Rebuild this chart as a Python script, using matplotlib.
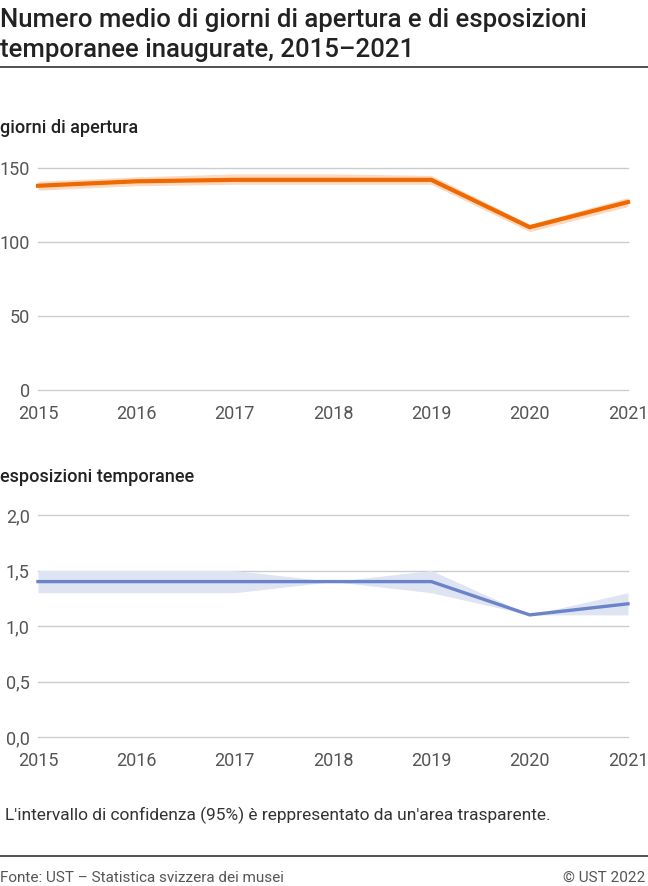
import matplotlib
matplotlib.use("Agg")
import matplotlib.pyplot as plt
from matplotlib.lines import Line2D

plt.rcParams['font.family'] = ['Roboto', 'DejaVu Sans']

# dati
anni = [2015, 2016, 2017, 2018, 2019, 2020, 2021]

giorni = [138, 141, 142, 142, 142, 110, 127]
giorni_low = [135, 138, 139, 139, 139, 107, 124]
giorni_high = [141, 144, 146, 146, 145, 112, 130]

esposizioni = [1.4, 1.4, 1.4, 1.4, 1.4, 1.1, 1.2]
esposizioni_low = [1.3, 1.3, 1.3, 1.4, 1.3, 1.1, 1.1]
esposizioni_high = [1.5, 1.5, 1.5, 1.4, 1.5, 1.1, 1.3]

ticks_giorni = [0, 50, 100, 150]
ticks_espo = [0.0, 0.5, 1.0, 1.5, 2.0]

W, H = 648, 886
fig = plt.figure(figsize=(W / 100, H / 100), dpi=100)


def px_axes(left, top, right, bottom):
    return fig.add_axes([left / W, 1 - bottom / H, (right - left) / W, (bottom - top) / H])


def style(ax, ticks, fmt):
    ax.set_xlim(anni[0], anni[-1])
    ax.set_ylim(ticks[0], ticks[-1])
    ax.set_yticks(ticks)
    ax.set_yticklabels([fmt(t) for t in ticks])
    ax.set_xticks(anni)
    ax.set_xticklabels([str(a) for a in anni])
    for s in ax.spines.values():
        s.set_visible(False)
    for t in ticks:
        ax.axhline(t, color='#cccccc', lw=1, clip_on=False, zorder=0)
    ax.tick_params(length=0, labelsize=13, labelcolor='#555555')
    ax.tick_params(axis='x', pad=11)
    ax.tick_params(axis='y', pad=6)


# grafico superiore
ax1 = px_axes(38, 168, 628, 390)
ax1.fill_between(anni, giorni_low, giorni_high, color='#fcd9c0', lw=0, clip_on=False, zorder=1)
ax1.plot(anni, giorni, color='#f06800', lw=3, clip_on=False, solid_joinstyle='miter', zorder=2)
style(ax1, ticks_giorni, lambda t: f"{t}")

# grafico inferiore
ax2 = px_axes(38, 515, 628, 737)
ax2.fill_between(anni, esposizioni_low, esposizioni_high, color='#dfe4f3', lw=0, clip_on=False, zorder=1)
ax2.plot(anni, esposizioni, color='#6b84c9', lw=2.4, clip_on=False, solid_joinstyle='miter', zorder=2)
style(ax2, ticks_espo, lambda t: f"{t:.1f}".replace('.', ','))

# testi
fig.text(0, 1 - 27 / H, "Numero medio di giorni di apertura e di esposizioni", fontsize=18.5,
         fontweight='medium', color='#222222', va='baseline')
fig.text(0, 1 - 57 / H, "temporanee inaugurate, 2015\u20132021", fontsize=18.5,
         fontweight='medium', color='#222222', va='baseline')
fig.add_artist(Line2D([0, 1], [1 - 67 / H] * 2, color='#333333', lw=1.2))

fig.text(0, 1 - 133 / H, "giorni di apertura", fontsize=13, fontweight='medium',
         color='#222222', va='baseline')
fig.text(0, 1 - 482 / H, "esposizioni temporanee", fontsize=13, fontweight='medium',
         color='#222222', va='baseline')

fig.text(5 / W, 1 - 820 / H, "L'intervallo di confidenza (95%) è reppresentato da un'area trasparente.",
         fontsize=12.5, color='#333333', va='baseline')
fig.add_artist(Line2D([0, 1], [1 - 856 / H] * 2, color='#333333', lw=1.2))
fig.text(0, 1 - 882 / H, "Fonte: UST \u2013 Statistica svizzera dei musei", fontsize=11,
         color='#555555', va='baseline')
fig.text(645 / W, 1 - 882 / H, "© UST 2022", fontsize=11, color='#555555', va='baseline', ha='right')

fig.savefig("out.png", dpi=100)
plt.close(fig)
